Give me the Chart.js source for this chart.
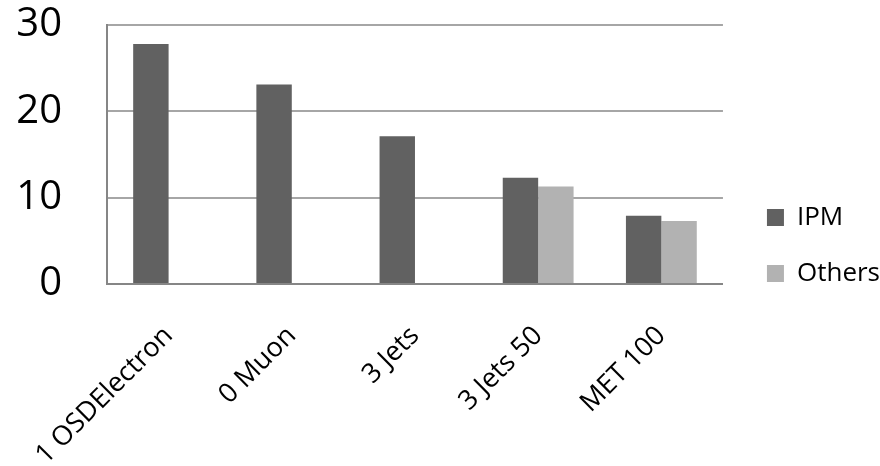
<!DOCTYPE html>
<html>
<head>
<meta charset="utf-8">
<script src="https://cdn.jsdelivr.net/npm/chart.js@4/dist/chart.umd.min.js"></script>
<style>
  html, body { margin: 0; padding: 0; background: #fff; }
  #wrap { width: 880px; height: 466px; }
</style>
</head>
<body>
<div id="wrap"><canvas id="chart" width="880" height="466"></canvas></div>
<script>
// categories and series
const categories = ['1 OSDElectron', '0 Muon', '3 Jets', '3 Jets 50', 'MET 100'];
const ipmValues = [27.8, 23.1, 17.1, 12.3, 7.9];
const otherValues = [null, null, null, 11.3, 7.3];
const yTicks = [0, 10, 20, 30];

// nudge the legend to the right without widening the plot
const legendShift = {
  id: 'legendShift',
  afterLayout(chart) {
    chart.legend.left += 14;
    chart.legend.right += 14;
  }
};

const ctx = document.getElementById('chart').getContext('2d');
new Chart(ctx, {
  type: 'bar',
  data: {
    labels: categories,
    datasets: [
      { label: 'IPM', data: ipmValues, backgroundColor: '#616161', borderWidth: 0 },
      { label: 'Others', data: otherValues, backgroundColor: '#b2b2b2', borderWidth: 0 }
    ]
  },
  plugins: [legendShift],
  options: {
    responsive: false,
    animation: false,
    categoryPercentage: 0.575,
    barPercentage: 1,
    layout: { padding: { left: 0, right: 4, top: 25, bottom: 0 } },
    plugins: {
      tooltip: { enabled: false },
      legend: {
        position: 'right',
        labels: {
          font: { family: 'Open Sans', size: 26 },
          color: '#000',
          boxWidth: 17,
          boxHeight: 17,
          padding: 30
        }
      }
    },
    scales: {
      x: {
        afterFit: (s) => {
          s.height = 182;
          s.paddingTop = 0; s.paddingBottom = 0;
          s.paddingLeft = 0; s.paddingRight = 0;
        },
        grid: { display: false, drawTicks: false },
        border: { display: true, color: '#868686', width: 2 },
        ticks: {
          font: { family: 'Open Sans', size: 27 },
          color: '#000',
          minRotation: 45,
          maxRotation: 45,
          padding: 36
        }
      },
      y: {
        min: 0,
        max: 30,
        afterFit: (s) => { s.width = 107; s.paddingTop = 0; s.paddingBottom = 0; },
        afterBuildTicks: (axis) => { axis.ticks = yTicks.map(v => ({ value: v })); },
        grid: { color: '#a6a6a6', lineWidth: 2, drawTicks: false },
        border: { display: true, color: '#868686', width: 2 },
        ticks: {
          font: { family: 'Open Sans', size: 40 },
          color: '#000',
          padding: 45
        }
      }
    }
  }
});
</script>
</body>
</html>
